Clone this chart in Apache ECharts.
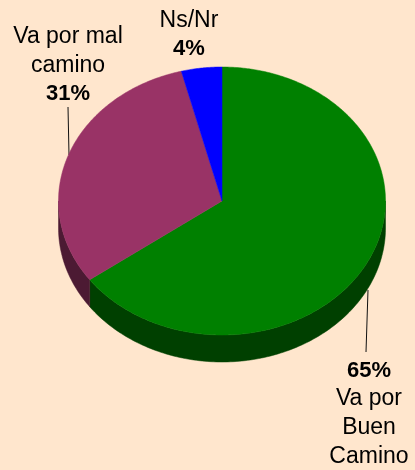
<!DOCTYPE html>
<html><head><meta charset="utf-8">
<script src="https://cdn.jsdelivr.net/npm/echarts@6/dist/echarts.min.js"></script>
<style>html,body{margin:0;padding:0;background:#ffe6cd;}#c{width:415px;height:470px;}</style>
</head><body><div id="c"></div>
<script>
var categories = ['Va por\nBuen\nCamino', 'Va por mal\ncamino', 'Ns/Nr'];
var values = [65, 31, 4];
var topColors = ['#008000', '#993366', '#0000ff'];
var sideColors = ['#004000', '#4c1a33', '#000080'];

var CX = 222, CY = 201, RX = 163.5, RY = 134, DEPTH = 27;
var total = values.reduce(function (a, b) { return a + b; }, 0);
function startAngle(i) { var s = 0; for (var k = 0; k < i; k++) s += values[k]; return s / total * 360; }
function pt(deg, dy) { var r = deg * Math.PI / 180; return [CX + RX * Math.sin(r), CY - RY * Math.cos(r) + (dy || 0)]; }

var chart = echarts.init(document.getElementById('c'), null, { renderer: 'canvas' });

function sideItem(params, api) {
  var i = params.dataIndex;
  var a1 = startAngle(i), a2 = a1 + api.value(0) / total * 360;
  var s = Math.max(a1, 90), e = Math.min(a2, 270);
  if (e <= s) return null;
  var pts = [], d;
  for (d = s; d < e; d += 1) pts.push(pt(d));
  pts.push(pt(e));
  for (d = e; d > s; d -= 1) pts.push(pt(d, DEPTH));
  pts.push(pt(s, DEPTH));
  return { type: 'polygon', shape: { points: pts }, style: { fill: sideColors[i], stroke: sideColors[i], lineWidth: 0.5 } };
}
function topItem(params, api) {
  var i = params.dataIndex;
  var a1 = startAngle(i), a2 = a1 + api.value(0) / total * 360;
  var pts = [[CX, CY]], d;
  for (d = a1; d < a2; d += 0.5) pts.push(pt(d));
  pts.push(pt(a2));
  return { type: 'polygon', shape: { points: pts }, style: { fill: topColors[i], stroke: topColors[i], lineWidth: 0.5 } };
}

var rich = {
  n: { fontFamily: 'Liberation Sans', fontSize: 23, lineHeight: 29, color: '#111' },
  b: { fontFamily: 'Liberation Sans', fontSize: 22, fontWeight: 'bold', lineHeight: 27, color: '#111' }
};
function nameLines(s) { return s.split('\n').map(function (l) { return '{n|' + l + '}'; }).join('\n'); }

chart.setOption({
  backgroundColor: '#ffe6cd',
  animation: false,
  series: [
    { type: 'custom', coordinateSystem: 'none', renderItem: sideItem, data: values.map(function (v) { return [v]; }), silent: true },
    { type: 'custom', coordinateSystem: 'none', renderItem: topItem, data: values.map(function (v) { return [v]; }), silent: true }
  ],
  graphic: [
    { type: 'line', shape: { x1: 68, y1: 107, x2: 69, y2: 155 }, style: { stroke: '#111', lineWidth: 1 } },
    { type: 'line', shape: { x1: 368, y1: 290, x2: 366, y2: 352 }, style: { stroke: '#111', lineWidth: 1 } },
    { type: 'text', x: 68, y: 22, style: { text: nameLines(categories[1]) + '\n{b|' + values[1] + '%}', rich: rich, align: 'center' } },
    { type: 'text', x: 189, y: 6, style: { text: nameLines(categories[2]) + '\n{b|' + values[2] + '%}', rich: rich, align: 'center' } },
    { type: 'text', x: 369, y: 357, style: { text: '{b|' + values[0] + '%}\n' + nameLines(categories[0]), rich: rich, align: 'center' } }
  ]
});
</script></body></html>
